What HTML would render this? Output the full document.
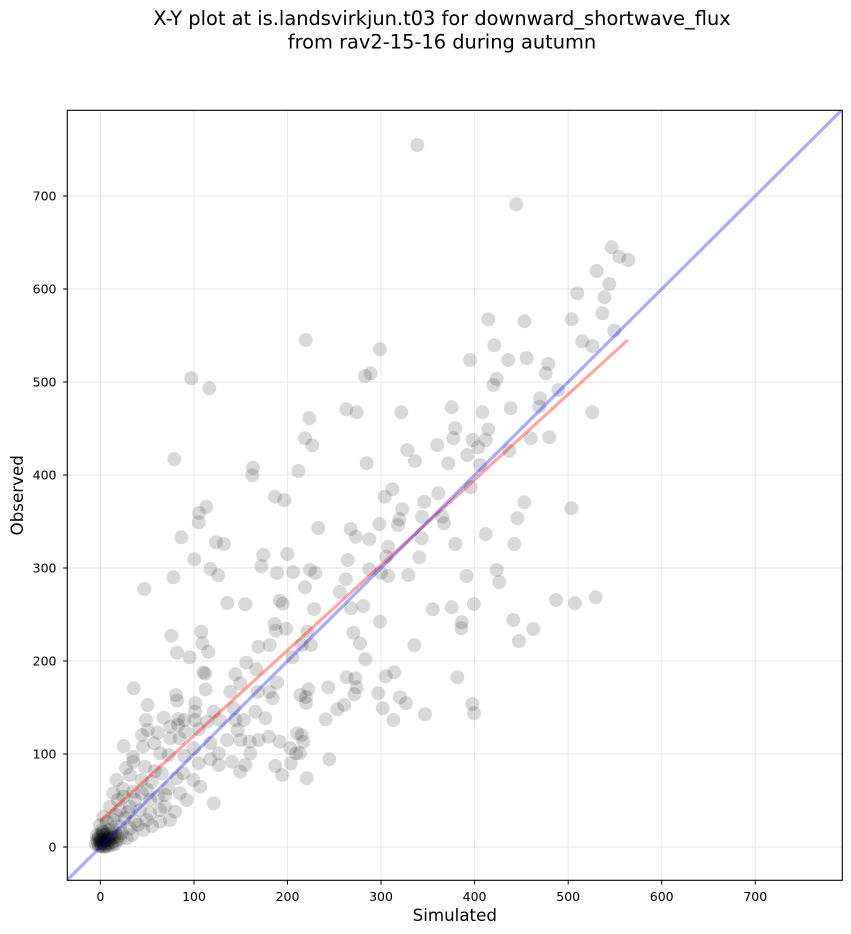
<!DOCTYPE html>
<html><head><meta charset="utf-8"><style>
html,body{margin:0;padding:0;background:#fff;}
svg{display:block;}
text{font-family:"DejaVu Sans","Liberation Sans",sans-serif;fill:#000;}
</style></head><body>
<svg width="851" height="934" viewBox="0 0 851 934" xmlns="http://www.w3.org/2000/svg">
<rect width="851" height="934" fill="#fff"/>
<text x="442" y="25" font-size="19.4" text-anchor="middle">X-Y plot at is.landsvirkjun.t03 for downward_shortwave_flux</text>
<text x="442" y="48.3" font-size="19.4" text-anchor="middle">from rav2-15-16 during autumn</text>
<defs><clipPath id="c"><rect x="67.3" y="110.3" width="775" height="770"/></clipPath></defs>
<g stroke="#ebebeb" stroke-width="1.2">
<line x1="100.4" y1="110.3" x2="100.4" y2="880.3"/><line x1="194" y1="110.3" x2="194" y2="880.3"/><line x1="287.5" y1="110.3" x2="287.5" y2="880.3"/><line x1="381" y1="110.3" x2="381" y2="880.3"/><line x1="474.6" y1="110.3" x2="474.6" y2="880.3"/><line x1="568.2" y1="110.3" x2="568.2" y2="880.3"/><line x1="661.7" y1="110.3" x2="661.7" y2="880.3"/><line x1="755.3" y1="110.3" x2="755.3" y2="880.3"/>
<line x1="67.3" y1="847" x2="842.3" y2="847"/><line x1="67.3" y1="754" x2="842.3" y2="754"/><line x1="67.3" y1="661" x2="842.3" y2="661"/><line x1="67.3" y1="568" x2="842.3" y2="568"/><line x1="67.3" y1="475" x2="842.3" y2="475"/><line x1="67.3" y1="382" x2="842.3" y2="382"/><line x1="67.3" y1="289" x2="842.3" y2="289"/><line x1="67.3" y1="196" x2="842.3" y2="196"/>
</g>
<g clip-path="url(#c)" fill="#000" fill-opacity="0.15">
<circle cx="191.3" cy="378.3" r="7"/><circle cx="209.3" cy="388.3" r="7"/><circle cx="174.3" cy="459.3" r="7"/><circle cx="253" cy="467.7" r="7"/><circle cx="252.3" cy="475.3" r="7"/><circle cx="309.3" cy="418.3" r="7"/><circle cx="305" cy="438.3" r="7"/><circle cx="312.3" cy="445.3" r="7"/><circle cx="298.3" cy="471" r="7"/><circle cx="346.3" cy="409.3" r="7"/><circle cx="275" cy="496.7" r="7"/><circle cx="284.3" cy="500.3" r="7"/><circle cx="206.3" cy="507" r="7"/><circle cx="199.3" cy="513" r="7"/><circle cx="198.7" cy="522.3" r="7"/><circle cx="181.3" cy="537.3" r="7"/><circle cx="216" cy="542.3" r="7"/><circle cx="224" cy="544" r="7"/><circle cx="318.3" cy="528" r="7"/><circle cx="263.3" cy="555" r="7"/><circle cx="287.3" cy="554" r="7"/><circle cx="194.3" cy="559.3" r="7"/><circle cx="261.3" cy="566.3" r="7"/><circle cx="210.3" cy="569" r="7"/><circle cx="218.3" cy="575.3" r="7"/><circle cx="277" cy="573" r="7"/><circle cx="293.3" cy="572" r="7"/><circle cx="310" cy="569.7" r="7"/><circle cx="315.3" cy="573" r="7"/><circle cx="173.3" cy="577.3" r="7"/><circle cx="144.3" cy="589" r="7"/><circle cx="305" cy="587.3" r="7"/><circle cx="339.7" cy="592" r="7"/><circle cx="279.7" cy="600.7" r="7"/><circle cx="282.7" cy="603.7" r="7"/><circle cx="227.3" cy="603" r="7"/><circle cx="245.3" cy="604.3" r="7"/><circle cx="314" cy="609" r="7"/><circle cx="274.7" cy="624" r="7"/><circle cx="275.7" cy="630.7" r="7"/><circle cx="286" cy="628.7" r="7"/><circle cx="201.3" cy="631.7" r="7"/><circle cx="171.3" cy="635.7" r="7"/><circle cx="307.3" cy="631.7" r="7"/>
<circle cx="365" cy="376" r="7"/><circle cx="370.7" cy="373.3" r="7"/><circle cx="470" cy="360" r="7"/><circle cx="508.3" cy="360" r="7"/><circle cx="526.7" cy="358" r="7"/><circle cx="548.3" cy="364" r="7"/><circle cx="545.7" cy="373.3" r="7"/><circle cx="496.7" cy="379" r="7"/><circle cx="493.3" cy="385" r="7"/><circle cx="356.7" cy="412.3" r="7"/><circle cx="401.3" cy="412.3" r="7"/><circle cx="451.7" cy="407.3" r="7"/><circle cx="482.3" cy="412.3" r="7"/><circle cx="510.7" cy="408.3" r="7"/><circle cx="540" cy="398.3" r="7"/><circle cx="558.3" cy="390" r="7"/><circle cx="539.3" cy="406.7" r="7"/><circle cx="455.3" cy="428.3" r="7"/><circle cx="488.3" cy="429.3" r="7"/><circle cx="453.3" cy="438.3" r="7"/><circle cx="472.7" cy="440" r="7"/><circle cx="485.7" cy="440" r="7"/><circle cx="437.3" cy="445" r="7"/><circle cx="478.3" cy="447.3" r="7"/><circle cx="467.3" cy="455" r="7"/><circle cx="509.3" cy="450.7" r="7"/><circle cx="530.7" cy="438.3" r="7"/><circle cx="549.3" cy="437.3" r="7"/><circle cx="407.3" cy="450" r="7"/><circle cx="415" cy="461" r="7"/><circle cx="448.3" cy="463.3" r="7"/><circle cx="366.7" cy="463.3" r="7"/><circle cx="480" cy="465" r="7"/><circle cx="470.7" cy="487.3" r="7"/><circle cx="392.3" cy="489.3" r="7"/><circle cx="384.7" cy="496.7" r="7"/><circle cx="438.3" cy="493.3" r="7"/><circle cx="424.3" cy="501.7" r="7"/><circle cx="402.3" cy="509" r="7"/><circle cx="524.3" cy="502.3" r="7"/><circle cx="571.3" cy="508.3" r="7"/><circle cx="517.3" cy="518.3" r="7"/><circle cx="422" cy="516.7" r="7"/><circle cx="442.3" cy="516.7" r="7"/><circle cx="444" cy="523.3" r="7"/><circle cx="399.3" cy="519.3" r="7"/><circle cx="398" cy="525" r="7"/><circle cx="379.3" cy="524" r="7"/><circle cx="350.7" cy="529" r="7"/><circle cx="355.7" cy="536.7" r="7"/><circle cx="369.3" cy="539.3" r="7"/><circle cx="421.7" cy="538.3" r="7"/><circle cx="485.7" cy="534" r="7"/><circle cx="455.3" cy="544" r="7"/><circle cx="514.3" cy="544" r="7"/><circle cx="388.3" cy="546.7" r="7"/><circle cx="386.3" cy="556.7" r="7"/><circle cx="419.3" cy="557.3" r="7"/><circle cx="347.7" cy="560" r="7"/><circle cx="369.3" cy="569.3" r="7"/><circle cx="381" cy="572.7" r="7"/><circle cx="388.3" cy="576" r="7"/><circle cx="408.3" cy="575" r="7"/><circle cx="466.7" cy="576" r="7"/><circle cx="496.7" cy="570" r="7"/><circle cx="499.3" cy="582.3" r="7"/><circle cx="346" cy="579.3" r="7"/><circle cx="363.3" cy="606" r="7"/><circle cx="351" cy="608.3" r="7"/><circle cx="432.7" cy="609.3" r="7"/><circle cx="451.7" cy="607.3" r="7"/><circle cx="474" cy="604" r="7"/><circle cx="556" cy="600" r="7"/><circle cx="575" cy="603.3" r="7"/><circle cx="380" cy="621.7" r="7"/><circle cx="461.7" cy="622.3" r="7"/><circle cx="461.3" cy="628.3" r="7"/><circle cx="513.3" cy="620" r="7"/><circle cx="533.3" cy="629" r="7"/><circle cx="353.3" cy="632.7" r="7"/>
<circle cx="519" cy="641" r="7"/><circle cx="360" cy="643.3" r="7"/><circle cx="311" cy="645" r="7"/><circle cx="301.7" cy="645" r="7"/><circle cx="414.3" cy="645" r="7"/><circle cx="365.3" cy="659.3" r="7"/><circle cx="346.7" cy="677.3" r="7"/><circle cx="355.3" cy="678.3" r="7"/><circle cx="356.7" cy="687.3" r="7"/><circle cx="354.3" cy="694.3" r="7"/><circle cx="385.7" cy="676.3" r="7"/><circle cx="394.3" cy="672.3" r="7"/><circle cx="378.3" cy="693.3" r="7"/><circle cx="400" cy="697.3" r="7"/><circle cx="406" cy="703.3" r="7"/><circle cx="382.7" cy="708.3" r="7"/><circle cx="393.3" cy="720" r="7"/><circle cx="425" cy="714.3" r="7"/><circle cx="457.3" cy="677.3" r="7"/><circle cx="472.3" cy="704" r="7"/><circle cx="474" cy="713.3" r="7"/><circle cx="328.3" cy="687.3" r="7"/><circle cx="308.3" cy="689.3" r="7"/><circle cx="306" cy="697" r="7"/><circle cx="306" cy="703" r="7"/><circle cx="344.3" cy="705" r="7"/><circle cx="337.3" cy="709.3" r="7"/><circle cx="325.7" cy="719.3" r="7"/><circle cx="301.7" cy="735" r="7"/><circle cx="303.3" cy="741.7" r="7"/><circle cx="300" cy="753.3" r="7"/><circle cx="329.3" cy="759.3" r="7"/><circle cx="306.7" cy="778.3" r="7"/>
<circle cx="611.7" cy="247.3" r="7"/><circle cx="619.3" cy="256.7" r="7"/><circle cx="628.3" cy="260" r="7"/><circle cx="596.7" cy="271" r="7"/><circle cx="609.3" cy="284" r="7"/><circle cx="577.3" cy="293.3" r="7"/><circle cx="604.3" cy="297.3" r="7"/><circle cx="571.7" cy="319.3" r="7"/><circle cx="602.3" cy="313.3" r="7"/><circle cx="614.3" cy="330.7" r="7"/><circle cx="582.3" cy="341.3" r="7"/><circle cx="592.3" cy="346" r="7"/><circle cx="592.3" cy="412.3" r="7"/><circle cx="595.7" cy="597.3" r="7"/>
<circle cx="417.3" cy="145" r="7"/><circle cx="516.3" cy="204.3" r="7"/><circle cx="488.3" cy="319.3" r="7"/><circle cx="524.3" cy="321.3" r="7"/><circle cx="305.7" cy="340" r="7"/><circle cx="380" cy="349.3" r="7"/><circle cx="494.3" cy="345.3" r="7"/>
<circle cx="177" cy="652.7" r="7"/><circle cx="189.7" cy="657.3" r="7"/><circle cx="202.3" cy="643.3" r="7"/><circle cx="208.3" cy="651.7" r="7"/><circle cx="258.3" cy="646.7" r="7"/><circle cx="269.7" cy="645" r="7"/><circle cx="246.3" cy="662.7" r="7"/><circle cx="256.3" cy="669.3" r="7"/><circle cx="292.3" cy="657.3" r="7"/><circle cx="203.3" cy="672.3" r="7"/><circle cx="205.3" cy="673.5" r="7"/><circle cx="133.7" cy="688.3" r="7"/><circle cx="205.7" cy="689.3" r="7"/><circle cx="235.3" cy="674.3" r="7"/><circle cx="240.3" cy="683.3" r="7"/><circle cx="230.3" cy="691.7" r="7"/><circle cx="277" cy="682.7" r="7"/><circle cx="269.7" cy="691.7" r="7"/><circle cx="272.7" cy="698.3" r="7"/><circle cx="257.7" cy="691.7" r="7"/><circle cx="300.3" cy="695" r="7"/><circle cx="176" cy="695" r="7"/><circle cx="177" cy="700.7" r="7"/><circle cx="195.3" cy="703.3" r="7"/><circle cx="147.7" cy="705" r="7"/><circle cx="195" cy="711.7" r="7"/><circle cx="194.7" cy="720" r="7"/><circle cx="233.7" cy="708.3" r="7"/><circle cx="255.3" cy="711.7" r="7"/><circle cx="265.3" cy="718.3" r="7"/><circle cx="243.7" cy="720" r="7"/><circle cx="235.3" cy="720" r="7"/><circle cx="213.7" cy="711.7" r="7"/><circle cx="219.7" cy="720" r="7"/><circle cx="207" cy="721.7" r="7"/><circle cx="178.3" cy="719" r="7"/><circle cx="184.3" cy="720" r="7"/><circle cx="163.7" cy="717.7" r="7"/><circle cx="146" cy="720" r="7"/><circle cx="147.7" cy="730" r="7"/><circle cx="142" cy="735" r="7"/><circle cx="157.7" cy="732.7" r="7"/><circle cx="170.3" cy="726.7" r="7"/><circle cx="178" cy="725" r="7"/><circle cx="185.3" cy="731.7" r="7"/><circle cx="198.7" cy="729.3" r="7"/><circle cx="179.7" cy="738.3" r="7"/><circle cx="170.3" cy="738.3" r="7"/><circle cx="154.3" cy="743.3" r="7"/><circle cx="143" cy="746.7" r="7"/><circle cx="123.7" cy="746" r="7"/><circle cx="133" cy="756.7" r="7"/><circle cx="160.3" cy="753.3" r="7"/><circle cx="168.7" cy="755" r="7"/><circle cx="184.3" cy="756" r="7"/><circle cx="193.7" cy="748.3" r="7"/><circle cx="210.3" cy="743.3" r="7"/><circle cx="218.7" cy="753.3" r="7"/><circle cx="210.3" cy="759.3" r="7"/><circle cx="198.7" cy="763.3" r="7"/><circle cx="218.7" cy="765" r="7"/><circle cx="227" cy="740" r="7"/><circle cx="237.7" cy="730" r="7"/><circle cx="240.3" cy="740" r="7"/><circle cx="249.7" cy="741.7" r="7"/><circle cx="258.7" cy="740" r="7"/><circle cx="268.7" cy="736.7" r="7"/><circle cx="279.7" cy="741.7" r="7"/><circle cx="290.3" cy="748.3" r="7"/><circle cx="297" cy="733.3" r="7"/><circle cx="296" cy="753.3" r="7"/><circle cx="291" cy="763.3" r="7"/><circle cx="275.3" cy="766" r="7"/><circle cx="282" cy="775" r="7"/><circle cx="250.3" cy="753.3" r="7"/><circle cx="245.3" cy="765" r="7"/><circle cx="240.3" cy="771.7" r="7"/><circle cx="232" cy="761.7" r="7"/><circle cx="200.3" cy="786.7" r="7"/><circle cx="213.7" cy="803.3" r="7"/>
<circle cx="133.3" cy="761.7" r="7"/><circle cx="145" cy="766.7" r="7"/><circle cx="161.7" cy="773.3" r="7"/><circle cx="116.7" cy="780" r="7"/><circle cx="130" cy="775" r="7"/><circle cx="141.7" cy="780" r="7"/><circle cx="151.7" cy="781.7" r="7"/><circle cx="176.7" cy="778.3" r="7"/><circle cx="183.3" cy="773.3" r="7"/><circle cx="193.3" cy="780" r="7"/><circle cx="168.3" cy="788.3" r="7"/><circle cx="180" cy="793.3" r="7"/><circle cx="186.7" cy="800" r="7"/><circle cx="113.3" cy="793.3" r="7"/><circle cx="123.3" cy="796.7" r="7"/><circle cx="133.3" cy="791.7" r="7"/><circle cx="141.7" cy="793.3" r="7"/><circle cx="150" cy="800" r="7"/><circle cx="158.3" cy="796.7" r="7"/><circle cx="165" cy="806.7" r="7"/><circle cx="175" cy="811.7" r="7"/><circle cx="110" cy="806.7" r="7"/><circle cx="120" cy="810" r="7"/><circle cx="130" cy="806.7" r="7"/><circle cx="140" cy="810" r="7"/><circle cx="150" cy="813.3" r="7"/><circle cx="160" cy="810" r="7"/><circle cx="103.3" cy="816.7" r="7"/><circle cx="113.3" cy="820" r="7"/><circle cx="125" cy="818.3" r="7"/><circle cx="135" cy="821.7" r="7"/><circle cx="146.7" cy="820" r="7"/><circle cx="160" cy="821.7" r="7"/><circle cx="143.3" cy="830" r="7"/><circle cx="130" cy="828.3" r="7"/><circle cx="120" cy="826.7" r="7"/><circle cx="100" cy="825" r="7"/><circle cx="101.7" cy="833.3" r="7"/><circle cx="121.7" cy="833.3" r="7"/><circle cx="126.7" cy="838.3" r="7"/>
<circle cx="118" cy="800" r="7"/><circle cx="128" cy="812" r="7"/><circle cx="138" cy="825" r="7"/><circle cx="152" cy="826" r="7"/><circle cx="116" cy="815" r="7"/><circle cx="107" cy="822" r="7"/><circle cx="123" cy="789" r="7"/><circle cx="135" cy="800" r="7"/><circle cx="147" cy="790" r="7"/><circle cx="155" cy="771" r="7"/><circle cx="126" cy="768" r="7"/><circle cx="165" cy="795" r="7"/><circle cx="170" cy="820" r="7"/><circle cx="112" cy="828" r="7"/><circle cx="132" cy="835" r="7"/>
<circle cx="98.3" cy="838.3" r="7"/><circle cx="100" cy="841.7" r="7"/><circle cx="103.3" cy="843.3" r="7"/><circle cx="106.7" cy="840" r="7"/><circle cx="110" cy="836.7" r="7"/><circle cx="111.7" cy="845" r="7"/><circle cx="105" cy="835" r="7"/><circle cx="96.7" cy="835" r="7"/><circle cx="115" cy="833.3" r="7"/><circle cx="108.3" cy="830" r="7"/><circle cx="101.7" cy="846.7" r="7"/><circle cx="116.7" cy="840" r="7"/><circle cx="100.5" cy="844" r="7"/><circle cx="102" cy="840" r="7"/><circle cx="104" cy="846" r="7"/><circle cx="107" cy="843" r="7"/><circle cx="99" cy="836" r="7"/><circle cx="103" cy="832" r="7"/><circle cx="109" cy="840" r="7"/><circle cx="112" cy="838" r="7"/><circle cx="101" cy="845.5" r="7"/><circle cx="105" cy="841" r="7"/><circle cx="98" cy="843" r="7"/><circle cx="113" cy="842" r="7"/><circle cx="107" cy="834" r="7"/><circle cx="118" cy="836" r="7"/>
<circle cx="100" cy="840" r="7"/><circle cx="102" cy="843" r="7"/><circle cx="104" cy="838" r="7"/><circle cx="106" cy="845" r="7"/><circle cx="108" cy="838" r="7"/><circle cx="110" cy="843" r="7"/><circle cx="99" cy="846" r="7"/><circle cx="103" cy="835" r="7"/><circle cx="111" cy="834" r="7"/><circle cx="114" cy="837" r="7"/><circle cx="97" cy="840" r="7"/><circle cx="105" cy="847" r="7"/><circle cx="101" cy="838" r="7"/><circle cx="108" cy="846" r="7"/><circle cx="115" cy="844" r="7"/><circle cx="120" cy="839" r="7"/><circle cx="102" cy="830" r="7"/><circle cx="96" cy="844" r="7"/>
</g>
<g clip-path="url(#c)" fill="none" stroke-linecap="butt">
<line x1="100.4" y1="821" x2="627.7" y2="340" stroke="#ff0000" stroke-opacity="0.35" stroke-width="3.2"/>
<line x1="67.3" y1="880" x2="842.3" y2="109.5" stroke="#0000ff" stroke-opacity="0.33" stroke-width="3.2"/>
</g>
<rect x="67.3" y="110.3" width="775" height="770" fill="none" stroke="#000" stroke-width="1.1"/>
<g stroke="#000" stroke-width="1">
<line x1="100.4" y1="880.3" x2="100.4" y2="884.5"/><line x1="194" y1="880.3" x2="194" y2="884.5"/><line x1="287.5" y1="880.3" x2="287.5" y2="884.5"/><line x1="381" y1="880.3" x2="381" y2="884.5"/><line x1="474.6" y1="880.3" x2="474.6" y2="884.5"/><line x1="568.2" y1="880.3" x2="568.2" y2="884.5"/><line x1="661.7" y1="880.3" x2="661.7" y2="884.5"/><line x1="755.3" y1="880.3" x2="755.3" y2="884.5"/>
<line x1="63.1" y1="847" x2="67.3" y2="847"/><line x1="63.1" y1="754" x2="67.3" y2="754"/><line x1="63.1" y1="661" x2="67.3" y2="661"/><line x1="63.1" y1="568" x2="67.3" y2="568"/><line x1="63.1" y1="475" x2="67.3" y2="475"/><line x1="63.1" y1="382" x2="67.3" y2="382"/><line x1="63.1" y1="289" x2="67.3" y2="289"/><line x1="63.1" y1="196" x2="67.3" y2="196"/>
</g>
<g font-size="12.5" text-anchor="middle">
<text x="100.4" y="901">0</text><text x="194" y="901">100</text><text x="287.5" y="901">200</text><text x="381" y="901">300</text><text x="474.6" y="901">400</text><text x="568.2" y="901">500</text><text x="661.7" y="901">600</text><text x="755.3" y="901">700</text>
</g>
<g font-size="12.5" text-anchor="end">
<text x="56.5" y="851.5">0</text><text x="56.5" y="758.5">100</text><text x="56.5" y="665.5">200</text><text x="56.5" y="572.5">300</text><text x="56.5" y="479.5">400</text><text x="56.5" y="386.5">500</text><text x="56.5" y="293.5">600</text><text x="56.5" y="200.5">700</text>
</g>
<text x="454.8" y="921" font-size="16.7" text-anchor="middle">Simulated</text>
<text transform="translate(23,495.3) rotate(-90)" font-size="16.7" text-anchor="middle">Observed</text>
</svg>
</body></html>
